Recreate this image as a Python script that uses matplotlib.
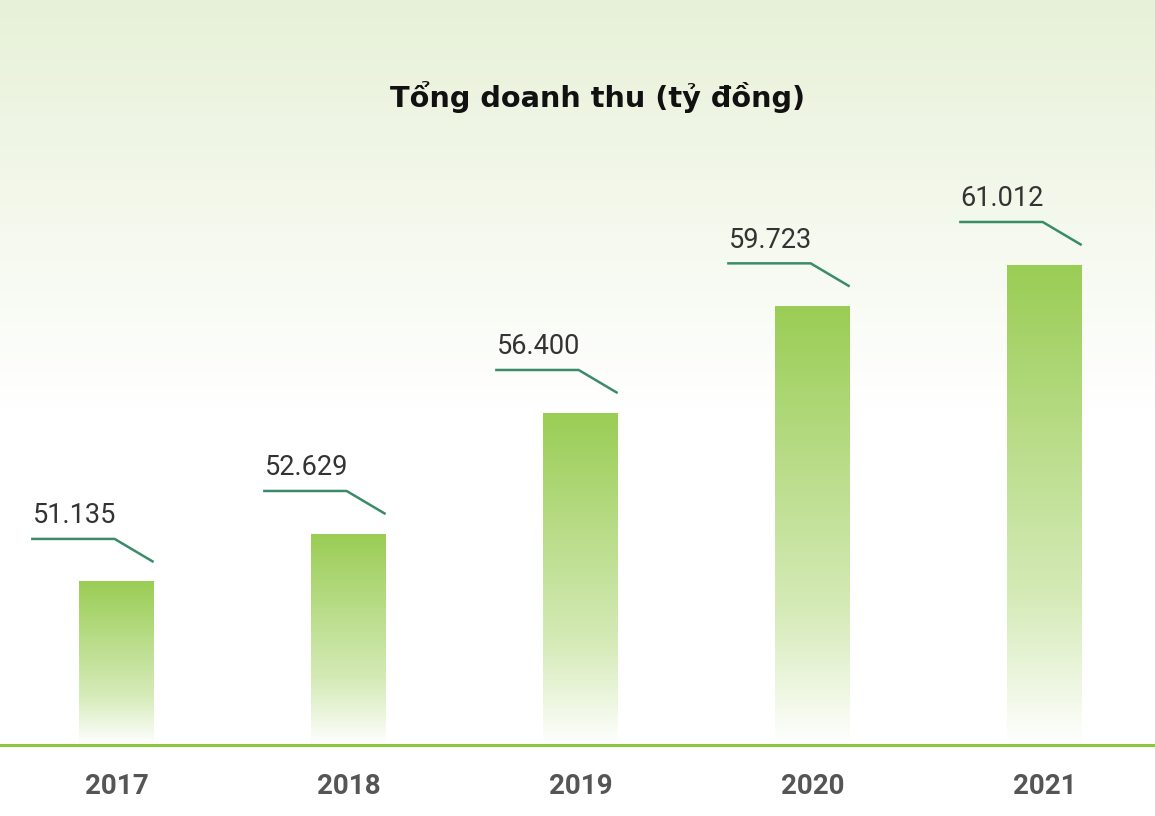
import numpy as np
from matplotlib import pyplot as plt
from matplotlib.colors import LinearSegmentedColormap

years = ["2017", "2018", "2019", "2020", "2021"]
revenue = [51.135, 52.629, 56.400, 59.723, 61.012]
labels = ["51.135", "52.629", "56.400", "59.723", "61.012"]
title = "Tổng doanh thu (tỷ đồng)"

floor = 46.055
bar_w = 0.323

fig = plt.figure(figsize=(11.55, 8.16), dpi=100)

# background gradient
bg = fig.add_axes([0, 0, 1, 1], zorder=0)
bg.axis("off")
bg_cmap = LinearSegmentedColormap.from_list("bg", ["#ffffff", "#ffffff", "#e7f1d8"])
grad = np.linspace(0, 1, 256).reshape(-1, 1)
bg.imshow(grad, cmap=bg_cmap, aspect="auto", extent=[0, 1, 0, 1], origin="lower")
bg.set_xlim(0, 1)
bg.set_ylim(0, 1)

ax = fig.add_axes([0, 0, 1, 1], zorder=1)
ax.patch.set_alpha(0)
ax.axis("off")
ax.set_xlim(-0.502, 4.476)
ax.set_ylim(43.84, 69.27)

bar_cmap = LinearSegmentedColormap.from_list(
    "bar", [(0, "#ffffff"), (0.3, "#d6ebb9"), (1, "#9acd55")])
x = np.arange(len(years))
for i, v in zip(x, revenue):
    col = np.linspace(0, 1, 256).reshape(-1, 1)
    ax.imshow(col, cmap=bar_cmap, aspect="auto", origin="lower",
              extent=[i - bar_w / 2, i + bar_w / 2, floor, v], zorder=2)

    # leader line
    y_h = v + 1.34
    ax.plot([i - 0.368, i - 0.008, i + 0.16], [y_h, y_h, v + 0.62],
            color="#3a8c68", lw=1.8, zorder=3, solid_capstyle="butt")
    ax.text(i - 0.362, y_h + 0.3, labels[i], fontsize=19.5,
            family="Roboto", color="#333333", ha="left", va="bottom")

    ax.text(i, floor - 1.3, years[i], fontsize=20, family="Roboto",
            fontweight="bold", color="#555555", ha="center", va="center")

ax.axhline(floor, color="#8dc63f", lw=2.2, zorder=4)

ax.text(2.075, 66.25, title, fontsize=20.7, family="DejaVu Sans",
        fontweight="bold", color="#111111", ha="center", va="center")

fig.savefig("out.png", dpi=100)
